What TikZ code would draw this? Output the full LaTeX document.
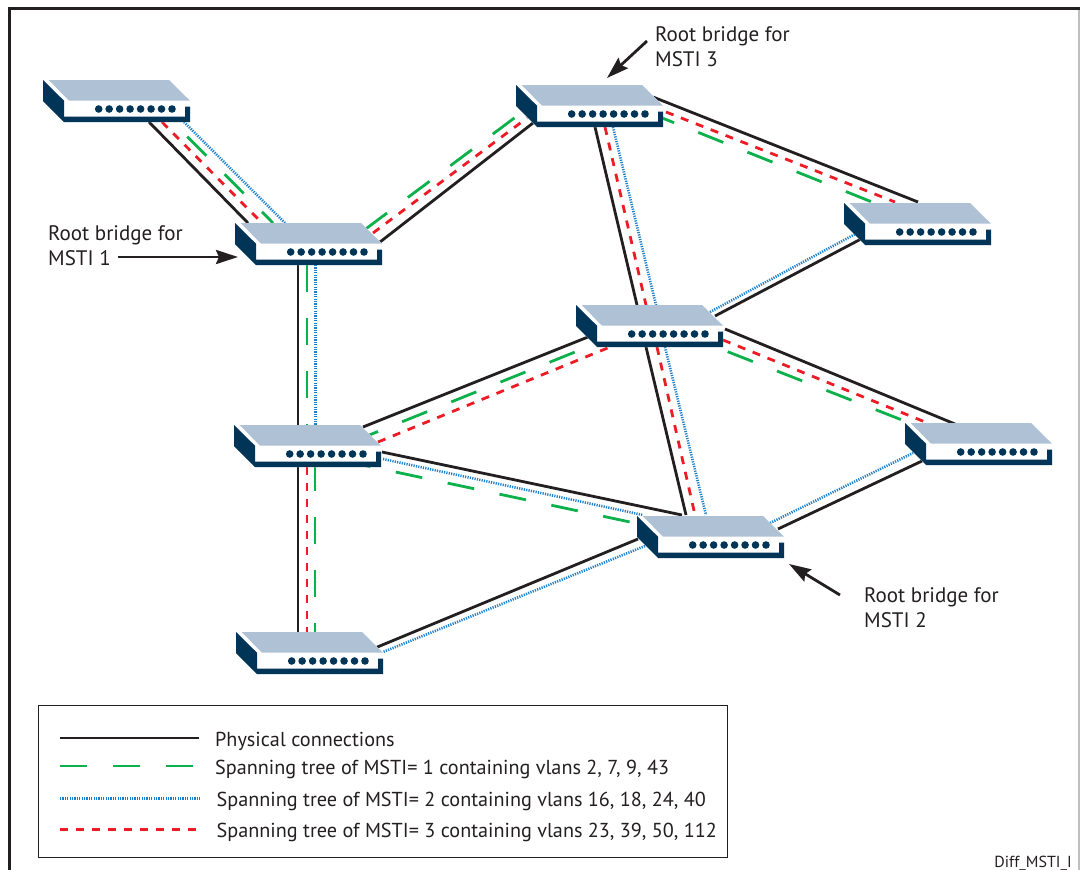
\documentclass[tikz,border=0pt]{standalone}
\usepackage{fontspec}
\setmainfont{PT Sans}
\usetikzlibrary{arrows.meta}
\definecolor{navy}{HTML}{003558}
\definecolor{lid}{HTML}{AFC2D5}
\definecolor{ink}{HTML}{231F20}
\definecolor{msgreen}{HTML}{0DB14B}
\definecolor{msblue}{HTML}{1C7FCC}
\definecolor{msred}{HTML}{ED1C24}
\pgfdeclarelayer{background}
\pgfsetlayers{background,main}
\tikzset{
  physical/.style={line width=2.8pt, ink},
  treeone/.style={line width=2.8pt, msgreen, dash pattern=on 27pt off 26pt},
  treetwo/.style={line width=2.6pt, msblue, dash pattern=on 1.2pt off 1.2pt},
  treethree/.style={line width=2.8pt, msred, dash pattern=on 8pt off 8pt},
  rootarrow/.style={line width=2.8pt, ink, -{Stealth[length=22pt,width=14pt,inset=3pt]}},
  rootlabel/.style={anchor=north west, align=left, inner sep=0pt, text=ink, font=\fontsize{21}{25.5}\selectfont},
  legendtext/.style={anchor=base west, inner sep=0pt, text=ink, font=\fontsize{20.2}{25}\selectfont},
  netswitch/.style={minimum width=147pt, minimum height=42pt, inner sep=0pt, path picture={
    \begin{scope}[shift={(path picture bounding box.center)}]
      \fill[white] (-73.5,-21) -- (52.5,-21) -- (73.5,-0.3) -- (73.5,21) -- (-52.5,21) -- (-73.5,0) -- cycle;
      \fill[lid] (-67.8,-21) -- (52.5,-21) -- (73.5,-0.3) -- (-47.5,-0.3) -- cycle;
      \fill[navy] (-73.5,-21) -- (-52.5,-0.3) -- (-52.5,21) -- (-73.5,0) -- cycle;
      \fill[navy] (-52.5,15.5) -- (68.5,15.5) -- (68.5,5.5) -- (73.5,5.5) -- (73.5,21) -- (-52.5,21) -- cycle;
      \foreach \n in {0,...,7}
        \fill[navy] (-17.8+10.47*\n,8) circle (3.8pt);
    \end{scope}}},
}
\newcommand{\netlink}[5]{\draw[#1] ([shift={(#3)}]#2.center) -- ([shift={(#5)}]#4.center);}
\begin{document}
\begin{tikzpicture}[x=1pt,y=-1pt]
\useasboundingbox (0,0) rectangle (1080,870);
\draw[line width=3pt, ink] (9,870) -- (9,8) -- (1080,8);
\draw[line width=1.5pt, black!25] (1079.2,10) -- (1079.2,870);

\node[netswitch] (edgea) at (116.5,101) {};
\node[netswitch] (rootthree) at (589.5,106) {};
\node[netswitch] (rootone) at (308.5,244) {};
\node[netswitch] (edgeb) at (917.5,224) {};
\node[netswitch] (middle) at (649.5,326) {};
\node[netswitch] (leftmid) at (307.5,446) {};
\node[netswitch] (edgec) at (978.5,444) {};
\node[netswitch] (roottwo) at (710.5,537) {};
\node[netswitch] (bottom) at (309.5,653) {};

\begin{pgfonlayer}{background}
\netlink{physical}{edgea}{32.5,21}{rootone}{-60.5,-21}
\netlink{treethree}{edgea}{45.5,21}{rootone}{-46.5,-21}
\netlink{treeone}{edgea}{33.5,-2}{rootone}{-35.5,-21}
\netlink{treetwo}{edgea}{67.5,21}{rootone}{-23.5,-21}

\netlink{physical}{rootone}{71.5,-2}{rootthree}{-56.5,17}
\netlink{treethree}{rootone}{64.5,-11}{rootthree}{-62.5,12}
\netlink{treeone}{rootone}{56.9,-14.8}{rootthree}{-72.5,10}

\netlink{physical}{rootthree}{63.5,-9}{edgeb}{0.5,-22}
\netlink{treethree}{rootthree}{76.5,6}{edgeb}{-22.5,-22}
\netlink{treeone}{rootthree}{59.5,6.7}{edgeb}{-45.5,-22}

\netlink{physical}{rootthree}{5.5,21}{middle}{-12.5,-21}
\netlink{treethree}{rootthree}{15.5,21}{middle}{-3.5,-21}
\netlink{treetwo}{rootthree}{23.5,21}{middle}{6.5,-21}

\netlink{physical}{middle}{65.5,-10}{edgeb}{-56.5,15}
\netlink{treetwo}{middle}{60.5,-14}{edgeb}{-58.5,8}

\netlink{physical}{leftmid}{55.5,-19}{middle}{-61.5,11}
\netlink{treeone}{leftmid}{45.5,-4.4}{middle}{-74.5,26}
\netlink{treethree}{leftmid}{70.5,-4}{middle}{-39.5,21}

\netlink{physical}{rootone}{-10.5,21}{leftmid}{-9.5,-21}
\netlink{treeone}{rootone}{-1.5,21}{leftmid}{-0.5,-21}
\netlink{treetwo}{rootone}{7,21}{leftmid}{8,-21}

\netlink{physical}{leftmid}{-9.5,21}{bottom}{-11.5,-21}
\netlink{treethree}{leftmid}{-0.5,21}{bottom}{-2.5,-21}
\netlink{treeone}{leftmid}{7.5,17.7}{bottom}{5.5,-21}

\netlink{physical}{leftmid}{74.5,6}{roottwo}{-28.5,-22}
\netlink{treetwo}{leftmid}{75.5,13}{roottwo}{-67.5,-22}
\netlink{treeone}{leftmid}{36.5,15}{roottwo}{-80.5,-15}

\netlink{physical}{middle}{-3.5,21}{roottwo}{-24.5,-22}
\netlink{treethree}{middle}{7.5,21}{roottwo}{-15.5,-22}
\netlink{treetwo}{middle}{15.5,21}{roottwo}{-4.5,-22}

\netlink{physical}{roottwo}{-72.5,2}{bottom}{65.5,-5}
\netlink{treetwo}{roottwo}{-65.5,9}{bottom}{73.5,-1}

\netlink{physical}{roottwo}{67.5,-8}{edgec}{-56.5,17}
\netlink{treetwo}{roottwo}{59.5,-14}{edgec}{-65.5,9}

\netlink{physical}{middle}{75.5,3}{edgec}{-23.5,-20}
\netlink{treethree}{middle}{73.5,14}{edgec}{-48.5,-20}
\netlink{treeone}{middle}{78.2,25.7}{edgec}{-76.5,-24}
\end{pgfonlayer}

\node[rootlabel] (labelone) at (48,225) {Root bridge for\\MSTI 1};
\node[rootlabel] (labelthree) at (655,26) {Root bridge for\\MSTI 3};
\node[rootlabel] (labeltwo) at (864,587) {Root bridge for\\MSTI 2};
\coordinate (startone) at (118,257);
\coordinate (startthree) at (647,41);
\coordinate (starttwo) at (840,595);
\draw[rootarrow] (startone) -- ([shift={(-70.5,13)}]rootone.center);
\draw[rootarrow] (startthree) -- ([shift={(17.5,-28)}]rootthree.center);
\draw[rootarrow] (starttwo) -- ([shift={(78.5,27)}]roottwo.center);

\node[draw=ink, line width=1pt, minimum width=689pt, minimum height=152pt, inner sep=0pt] (legend) at (382.5,781) {};
\draw[physical] (60,738) -- (199,738);
\draw[treeone] (60,766) -- (193,766);
\draw[treetwo] (60,798.5) -- (200,798.5);
\draw[treethree] (60,829.5) -- (196,829.5);
\node[legendtext] (legendphys) at (215,746) {Physical connections};
\node[legendtext] (legendone) at (215,774) {Spanning tree of MSTI= 1 containing vlans 2, 7, 9, 43};
\node[legendtext] (legendtwo) at (216.5,806) {Spanning tree of MSTI= 2 containing vlans 16, 18, 24, 40};
\node[legendtext] (legendthree) at (216.5,837) {Spanning tree of MSTI= 3 containing vlans 23, 39, 50, 112};
\node[anchor=base east, inner sep=0pt, text=ink, font=\fontsize{16}{18}\selectfont] (figid) at (1072,867) {Diff\_MSTI\_I};
\end{tikzpicture}
\end{document}
